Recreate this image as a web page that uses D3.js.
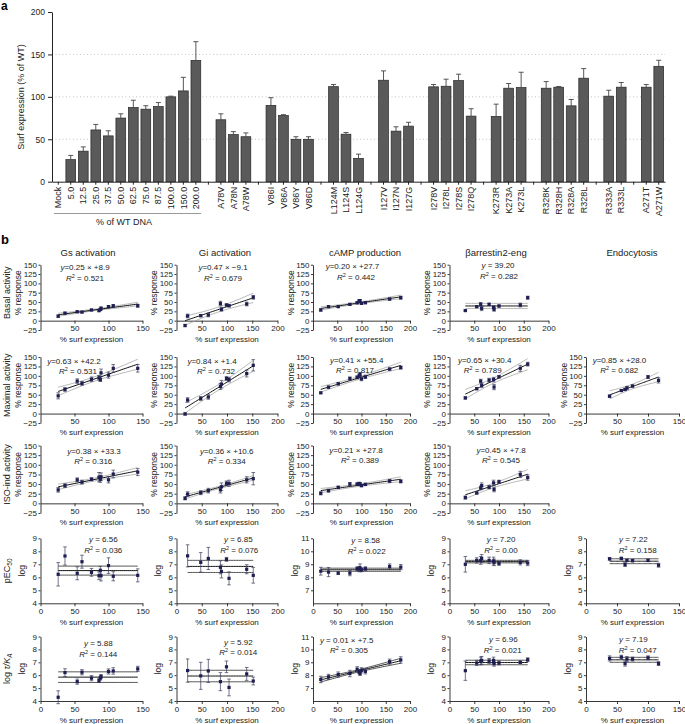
<!DOCTYPE html>
<html><head><meta charset="utf-8">
<script src="https://cdn.jsdelivr.net/npm/d3@7"></script>
<style>
body{margin:0;background:#fff;}
svg{font-family:"Liberation Sans",Arial,Helvetica,sans-serif;}
</style></head><body>
<svg id="c" width="685" height="724"></svg>
<script>
// ---------------- Panel a data ----------------
const surfCats = ["Mock","5.0","12.5","25.0","37.5","50.0","62.5","75.0","87.5","100.0","150.0","200.0","g1",
  "A78V","A78N","A78W","g2","V86I","V86A","V86Y","V86D","g3","L124M","L124S","L124G","g4",
  "I127V","I127N","I127G","g5","I278V","I278L","I278S","I278Q","g6","K273R","K273A","K273L","g7",
  "R328K","R328H","R328A","R328L","g8","R333A","R333L","g9","A271T","A271W"];
const surfMean = [null,26,36,61,54,75,87.5,85.5,88.6,100,107,143,null,
  73,55.5,53,null,90,78,50,50,null,112,56,27.5,null,
  119.6,59.6,65.5,null,111.8,112.5,119.2,77.3,null,77,110.2,111,null,
  110.2,111.4,89.4,122,null,100.8,111.4,null,111.4,136];
const surfSem = [null,5,5,6.5,6,5,8.5,4,4.7,0.8,16,22,null,
  7,3.5,4.5,null,9,1,3,3,null,2.5,2,5,null,
  11,5.1,4.5,null,2.7,8.3,7.5,8.7,null,14.4,5.5,18,null,
  7.8,0.8,7.5,11.3,null,7,5.5,null,3.1,7.1];
const surfTicks = [0,50,100,150,200];

// ---------------- Panel b data ----------------
const colTitles = ["Gs activation","Gi activation","cAMP production","βarrestin2-eng","Endocytosis"];
// % surf expression (x) per column
const gsX  = [26,36,54,61,75,86,88,89,100,107,143];
const giX  = [17,22,48,63,87,89,99,104,139,152];
const camX = [16,32,52,76,91,95,97,100,108,158,181];
const baX  = [32,55,63,65,80,89,90,100,143,158];
const enX  = [38,57,63,66,75,100,117];

// Gs activation
const gsBasal = [12,20,24,23,28.7,27,30,33,37.5,40,40];
const gsBasalErr = [3,3,2,2,2,3,3,4,3,3,4];
const gsMax = [47,64,86,80,91,95,90,108,102,120,120];
const gsMaxErr = [8,5,6,5,6,6,5,10,8,10,10];
const gsIso = [35,46,61,55,62.5,68,62.5,69,61,76,81];
const gsIsoErr = [6,5,5,5,4,12,8,10,8,10,9];
const gsPec = [6.23,7.64,6.31,7.2,6.38,6.12,6.54,6.12,6.9,6.08,6.15];
const gsPecErr = [0.9,0.7,0.5,0.5,0.3,0.3,0.3,0.4,0.6,0.35,0.5];
const gsTau = [4.29,6.2,5.5,6.23,5.77,5.58,5.77,5.9,6.29,6.33,6.49];
const gsTauErr = [0.5,0.3,0.2,0.2,0.2,0.15,0.15,0.15,0.2,0.25,0.2];

// Gi activation
const giBasal = [-13,12.6,13.4,15.3,46,30.5,42,40,44.7,62.7];
const giBasalErr = [3,5,3,5,6,5,3,3,5,5];
const giMax = [-1,36,40,44,72,78,93,90,106,128];
const giMaxErr = [3,6,5,6,8,10,5,6,9,15];
const giIso = [13,24,27.6,33,35,43,52,52,61,64];
const giIsoErr = [4,6,5,6,8,10,6,8,8,16];
const giPec = [null,7.65,7.15,7.45,6.77,6.45,7.38,5.92,6.62,6.15];
const giPecErr = [null,0.85,0.75,0.85,0.5,0.5,0.15,0.5,0.35,0.6];
const giTau = [null,6.36,5.95,6.33,5.5,null,6.65,5.05,6.1,5.55];
const giTauErr = [null,0.9,1.05,0.9,0.7,null,0.45,0.65,0.5,0.3];

// cAMP production
const camBasal = [28.6,37.5,37.5,43.8,48,52.7,53.6,46.4,48.2,58,61.6];
const camBasalErr = [3,3,2,2,3,3,3,3,3,3,4];
const camMax = [55,70,79,93,96,100,104,92,97,118,122];
const camMaxErr = [2,3,3,4,4,5,5,5,4,3,4];
const camIso = [26,33,41.5,50,50,51,50,46,49,58,57];
const camIsoErr = [4,4,3,4,3,4,4,3,3,4,4];
const camPec = [8.47,8.4,8.32,8.32,8.66,8.64,8.73,8.58,8.66,8.83,8.78];
const camPecErr = [0.3,0.35,0.1,0.2,0.15,0.2,0.3,0.15,0.15,0.2,0.2];
const camTau = [7.67,7.87,8.05,8.13,8.46,8.26,8.13,8.38,8.3,9.05,9.18];
const camTauErr = [0.25,0.2,0.2,0.25,0.2,0.15,0.15,0.2,0.2,0.2,0.25];

// βarrestin2-eng
const baBasal = [27,37.5,43.8,33,43.8,35.7,30.4,39.3,42,61.6];
const baBasalErr = [2,2,5,6,3,4,5,3,5,4];
const baMax = [41.5,66,86,75,88.5,90,70.4,97.5,120,131];
const baMaxErr = [3,3,5,6,5,6,7,3,8,5];
const baIso = [15,27,40,46,42,53,36,56,75,67];
const baIsoErr = [4,3,5,7,4,7,6,4,8,7];
const baPec = [7.0,7.3,7.3,7.45,7.3,7.25,7.15,7.07,7.15,7.1];
const baPecErr = [0.6,0.2,0.3,0.3,0.25,0.3,0.25,0.15,0.2,0.2];
const baTau = [6.35,6.95,7.1,7.15,7.1,7.15,6.9,6.95,7.0,7.2];
const baTauErr = [0.75,0.2,0.3,0.3,0.2,0.25,0.2,0.15,0.1,0.15];

// Endocytosis
const enMax = [46,61,64,68,73,97,88];
const enMaxErr = [3,2,3,4,3,4,7];
const enPec = [7.42,7.45,6.98,7.3,7.28,7.3,6.93];
const enPecErr = [0.1,0.1,0.15,0.1,0.1,0.1,0.15];
const enTau = [7.3,7.4,6.9,7.25,7.25,7.35,6.9];
const enTauErr = [0.2,0.15,0.2,0.2,0.15,0.15,0.15];

// equations shown on each panel
const eqLine = [
  ["y=0.25 × +8.9","y=0.47 × −9.1","y=0.20 × +27.7","y = 39.20",null],
  ["y=0.63 × +42.2","y=0.84 × +1.4","y=0.41 × +55.4","y=0.65 × +30.4","y=0.85 × +28.0"],
  ["y=0.38 × +33.3","y=0.36 × +10.6","y=0.21 × +27.8","y=0.45 × +7.8",null],
  ["y = 6.56","y = 6.85","y = 8.58","y = 7.20","y = 7.22"],
  ["y = 5.88","y = 5.92","y = 0.01 × +7.5","y = 6.96","y = 7.19"]];
const eqR2 = [
  ["0.521","0.679","0.442","0.282",null],
  ["0.531","0.732","0.817","0.789","0.682"],
  ["0.316","0.334","0.389","0.545",null],
  ["0.036","0.076","0.022","0.00","0.158"],
  ["0.144","0.014","0.305","0.021","0.047"]];

const colX = [gsX, giX, camX, baX, enX];
const cells = [
  [[gsBasal,gsBasalErr],[giBasal,giBasalErr],[camBasal,camBasalErr],[baBasal,baBasalErr],null],
  [[gsMax,gsMaxErr],[giMax,giMaxErr],[camMax,camMaxErr],[baMax,baMaxErr],[enMax,enMaxErr]],
  [[gsIso,gsIsoErr],[giIso,giIsoErr],[camIso,camIsoErr],[baIso,baIsoErr],null],
  [[gsPec,gsPecErr],[giPec,giPecErr],[camPec,camPecErr],[baPec,baPecErr],[enPec,enPecErr]],
  [[gsTau,gsTauErr],[giTau,giTauErr],[camTau,camTauErr],[baTau,baTauErr],[enTau,enTauErr]]];
const fitKind = [
  ["lin","lin","lin","mean",null],
  ["lin","lin","lin","lin","lin"],
  ["lin","lin","lin","lin",null],
  ["mean","mean","mean","mean","mean"],
  ["mean","mean","lin","mean","mean"]];

// ---------------- layout ----------------
const COLS = [
  {x0:40.5, x1:142.5, xmax:150},
  {x0:176.5, x1:277.5, xmax:200},
  {x0:313, x1:410, xmax:200},
  {x0:449.5, x1:548.5, xmax:200},
  {x0:586, x1:679, xmax:150}];
const ROWS = [
  {yb:330, yt:264.7, dom:[-25,150]},
  {yb:423, yt:357, dom:[-25,150]},
  {yb:513, yt:445.5, dom:[-25,150]},
  {yb:603.3, yt:538.3, dom:[4,9]},
  {yb:701, yt:636.5, dom:[4,9]}];
const EQPOS = [ // [x line1, y line1, x line2, y line2]
  [[85,267,85,278],[223,267,223,278],[352.5,266,356,277],[498,265.5,499,276.5],null],
  [[74,361,78,371.5],[212,361,216,371.5],[356.7,360,355,370.5],[484.7,360,482.7,370.5],[619.5,360,619.3,370.5]],
  [[94,451,93.3,461],[226.7,451,226.7,461],[356,450.5,360,460],[501,450,501,460.5]],
  [[103.3,539,103.3,550.5],[238.3,539,239.3,550.5],[365.7,540,366.7,551],[501,539,501,550.5],[633.3,539,637.7,550.5]],
  [[98.3,643,98.3,654],[238.3,642,238.3,652.5],[346.7,640,349,650],[503.3,639,502.7,650],[633.3,639,637.7,650]]];
const rowNames = ["Basal activity","Maximal activity","ISO-ind activity","pEC50","log τ/KA"];
const T975 = {1:12.706,2:4.303,3:3.182,4:2.776,5:2.571,6:2.447,7:2.365,8:2.306,9:2.262,10:2.228,11:2.201,12:2.179};

const svg = d3.select("#c");
const INK = "#1e1e50";

// ================= Panel a =================
const ax = d3.scaleBand().domain(surfCats).range([52,665]).paddingInner(0.22).paddingOuter(0.11);
const ay = d3.scaleLinear().domain([0,200]).range([181.7,12]);
const ga = svg.append("g");
ga.selectAll("line.grid").data([50,100,150]).join("line")
  .attr("x1",52).attr("x2",665).attr("y1",d=>ay(d)).attr("y2",d=>ay(d))
  .attr("stroke","#b5b5b5").attr("stroke-width",0.8).attr("stroke-dasharray","1,2.5");
const barData = surfCats.map((c,i)=>({c,v:surfMean[i],e:surfSem[i]})).filter(d=>d.v!=null);
ga.selectAll("rect.bar").data(barData).join("rect")
  .attr("x",d=>ax(d.c)).attr("width",ax.bandwidth())
  .attr("y",d=>ay(d.v)).attr("height",d=>ay(0)-ay(d.v))
  .attr("fill","#5a5a5a").attr("stroke","#262626").attr("stroke-width",0.7);
const eb = ga.selectAll("g.eb").data(barData).join("g");
eb.append("line").attr("x1",d=>ax(d.c)+ax.bandwidth()/2).attr("x2",d=>ax(d.c)+ax.bandwidth()/2)
  .attr("y1",d=>ay(d.v)).attr("y2",d=>ay(d.v+d.e)).attr("stroke","#444").attr("stroke-width",0.9);
eb.append("line").attr("x1",d=>ax(d.c)+ax.bandwidth()/2-2.5).attr("x2",d=>ax(d.c)+ax.bandwidth()/2+2.5)
  .attr("y1",d=>ay(d.v+d.e)).attr("y2",d=>ay(d.v+d.e)).attr("stroke","#444").attr("stroke-width",0.9);
const ayAxis = ga.append("g").attr("transform","translate(52,0)")
  .call(d3.axisLeft(ay).tickValues(surfTicks).tickSize(4).tickPadding(3).tickSizeOuter(0));
ayAxis.selectAll("text").attr("font-size",8.5).attr("font-family",null).attr("fill","#222");
const axAxis = ga.append("g").attr("transform",`translate(0,${ay(0)})`)
  .call(d3.axisBottom(ax).tickSize(3).tickSizeOuter(0).tickFormat(d=>/^g\d$/.test(d)?"":d));
axAxis.selectAll("text").attr("transform","rotate(-90)").attr("text-anchor","end")
  .attr("x",-5).attr("y",0).attr("dy","0.35em").attr("font-size",9).attr("font-family",null).attr("fill","#222");
ga.selectAll(".domain, .tick line").attr("stroke","#222");
ga.append("line").attr("x1",54).attr("x2",201).attr("y1",213.5).attr("y2",213.5).attr("stroke","#999").attr("stroke-width",1);
ga.append("text").attr("x",124).attr("y",224.5).attr("text-anchor","middle").attr("font-size",9).attr("fill","#222").text("% of WT DNA");
ga.append("text").attr("transform","translate(24,97) rotate(-90)").attr("text-anchor","middle")
  .attr("font-size",9).attr("fill","#222").text("Surf expression (% of WT)");
svg.append("text").attr("x",1).attr("y",10).attr("font-size",12).attr("font-weight","bold").text("a");
svg.append("text").attr("x",1).attr("y",244).attr("font-size",13).attr("font-weight","bold").text("b");

// ================= Panel b =================
colTitles.forEach((t,i)=>{
  svg.append("text").attr("x",[88,225,365,496,632][i]).attr("y",255.5).attr("text-anchor","middle")
    .attr("font-size",9.5).attr("fill","#222").text(t);
});

function eqText(x,y,s){
  const t = svg.append("text").attr("x",x).attr("y",y).attr("dy","0.35em").attr("text-anchor","middle")
    .attr("font-size",8).attr("fill","#222");
  t.append("tspan").attr("font-style","italic").text("y");
  t.append("tspan").text(s.slice(1));
}
function r2Text(x,y,v){
  const t = svg.append("text").attr("x",x).attr("y",y).attr("dy","0.35em").attr("text-anchor","middle")
    .attr("font-size",8).attr("fill","#222");
  t.append("tspan").attr("font-style","italic").text("R");
  t.append("tspan").attr("dy",-3).attr("font-size",5.5).text("2");
  t.append("tspan").attr("dy",3).text(" = "+v);
}

function drawPanel(ri,ci){
  const cell = cells[ri][ci]; if(!cell) return;
  const C = COLS[ci], R = ROWS[ri];
  const dom = (ri>=3 && ci===2) ? [6,11] : R.dom;
  const x = d3.scaleLinear().domain([0,C.xmax]).range([C.x0,C.x1]);
  const y = d3.scaleLinear().domain(dom).range([R.yb,R.yt]);
  const g = svg.append("g");
  const yt = ri<3 ? d3.range(-25,151,25) : d3.range(dom[0]+(ci===2?1:0), dom[1]+0.01, 1);
  g.append("g").attr("transform",`translate(${C.x0},0)`)
    .call(d3.axisLeft(y).tickValues(yt).tickFormat(d3.format("d")).tickSize(2).tickPadding(1.5).tickSizeOuter(0));
  const xt = d3.range(ri<3?50:0, C.xmax+1, 50);
  const xAxisY = ri<3 ? y(0) : y(dom[0]);
  g.append("g").attr("transform",`translate(0,${xAxisY})`)
    .call(d3.axisBottom(x).tickValues(xt).tickFormat(d3.format("d")).tickSize(3).tickPadding(2).tickSizeOuter(0));
  g.selectAll("text").attr("font-size",8).attr("font-family",null).attr("fill","#222");
  g.selectAll(".domain, .tick line").attr("stroke","#222").attr("stroke-width",0.9);
  g.append("text").attr("x",(C.x0+C.x1)/2).attr("y",xAxisY+19).attr("dy","0.35em").attr("text-anchor","middle")
    .attr("font-size",8).attr("fill","#222").text("% surf expression");
  const midY = ri<3 ? (y(0)+y(150))/2 : (R.yb+R.yt)/2;
  g.append("text").attr("transform",`translate(${C.x0-(ri<3?22:18)},${midY}) rotate(-90)`).attr("dy","0.35em")
    .attr("text-anchor","middle").attr("font-size",8.5).attr("fill","#222").text(ri<3?"% response":"log");

  // data
  const xs = colX[ci];
  const pts = xs.map((xv,i)=>({x:xv,y:cell[0][i],e:cell[1][i]})).filter(d=>d.y!=null);
  const n = pts.length, mx = d3.mean(pts,d=>d.x), my = d3.mean(pts,d=>d.y);
  const xmin = d3.min(pts,d=>d.x), xmax = d3.max(pts,d=>d.x);
  let fit, half;
  if(fitKind[ri][ci]==="lin"){
    const Sxx = d3.sum(pts,d=>(d.x-mx)**2);
    const b = d3.sum(pts,d=>(d.x-mx)*(d.y-my))/Sxx, a = my-b*mx;
    const s = Math.sqrt(d3.sum(pts,d=>(d.y-a-b*d.x)**2)/(n-2));
    const t = T975[n-2];
    fit = xv=>a+b*xv; half = xv=>t*s*Math.sqrt(1/n+(xv-mx)**2/Sxx);
  } else {
    const s = d3.deviation(pts,d=>d.y), t = T975[n-1];
    fit = ()=>my; half = ()=>t*s/Math.sqrt(n);
  }
  const grid = d3.range(0,41).map(k=>xmin+(xmax-xmin)*k/40);
  const ln = d3.line().x(d=>x(d[0])).y(d=>y(d[1]));
  const ciCol = ri<3 ? "#9a9a9a" : "#2a2a2a";
  [-1,1].forEach(sg=>{
    g.append("path").attr("d",ln(grid.map(xv=>[xv,fit(xv)+sg*half(xv)])))
      .attr("fill","none").attr("stroke",ciCol).attr("stroke-width",ri<3?0.7:0.8);
  });
  g.append("path").attr("d",ln(grid.map(xv=>[xv,fit(xv)])))
    .attr("fill","none").attr("stroke","#111").attr("stroke-width",1);
  // error bars
  const e = g.selectAll("g.err").data(pts).join("g");
  e.append("line").attr("x1",d=>x(d.x)).attr("x2",d=>x(d.x)).attr("y1",d=>y(d.y-d.e)).attr("y2",d=>y(d.y+d.e))
    .attr("stroke","#3a3a5a").attr("stroke-width",0.7);
  [-1,1].forEach(sg=>{
    e.append("line").attr("x1",d=>x(d.x)-1.8).attr("x2",d=>x(d.x)+1.8)
      .attr("y1",d=>y(d.y+sg*d.e)).attr("y2",d=>y(d.y+sg*d.e)).attr("stroke","#3a3a5a").attr("stroke-width",0.7);
  });
  g.selectAll("rect.pt").data(pts).join("rect")
    .attr("x",d=>x(d.x)-1.6).attr("y",d=>y(d.y)-1.6).attr("width",3.2).attr("height",3.2).attr("fill",INK);
  // equation
  const p = EQPOS[ri][ci];
  eqText(p[0],p[1],eqLine[ri][ci]);
  r2Text(p[2],p[3],eqR2[ri][ci]);
}
for(let r=0;r<5;r++) for(let c=0;c<5;c++) drawPanel(r,c);

// row labels
rowNames.forEach((nm,ri)=>{
  const R = ROWS[ri];
  const y = d3.scaleLinear().domain(R.dom).range([R.yb,R.yt]);
  const mid = ri<3 ? (y(0)+y(150))/2 : (R.yb+R.yt)/2;
  const t = svg.append("text").attr("transform",`translate(7,${mid}) rotate(-90)`).attr("dy","0.35em")
    .attr("text-anchor","middle").attr("font-size",9).attr("fill","#222");
  if(ri===3){ t.append("tspan").text("pEC"); t.append("tspan").attr("dy",2).attr("font-size",6.5).text("50"); }
  else if(ri===4){ t.append("tspan").text("log "); t.append("tspan").attr("font-style","italic").text("τ/K");
    t.append("tspan").attr("dy",2).attr("font-size",6.5).attr("font-style","italic").text("A"); }
  else t.text(nm);
});
</script>
</body></html>
